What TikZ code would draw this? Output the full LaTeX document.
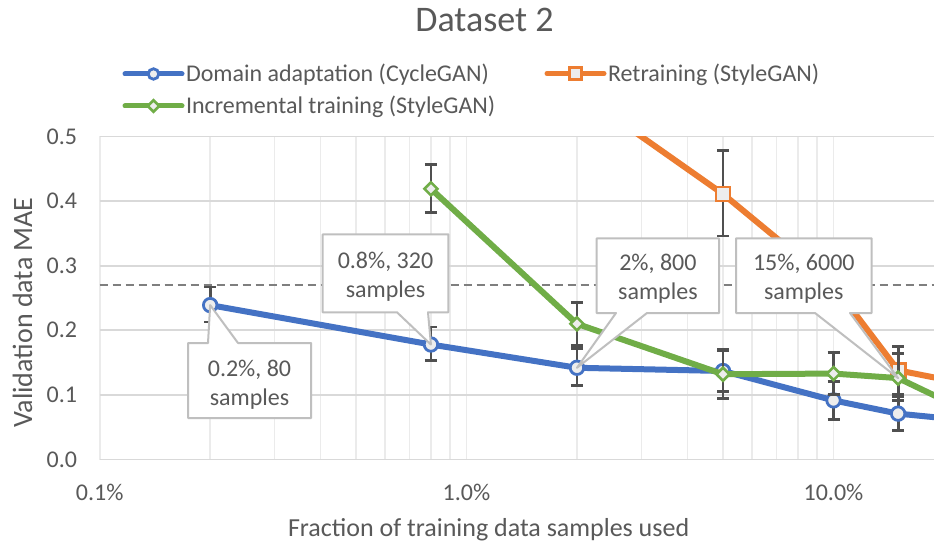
\documentclass[tikz,border=0pt]{standalone}
\usepackage{fontspec}
\setmainfont{Carlito}
\usetikzlibrary{shapes.geometric}
\definecolor{xlblue}{HTML}{4472C4}
\definecolor{xlorange}{HTML}{ED7D31}
\definecolor{xlgreen}{HTML}{70AD47}
\definecolor{gridmaj}{HTML}{D9D9D9}
\definecolor{gridmin}{HTML}{EBEBEB}
\definecolor{txt}{HTML}{595959}
\definecolor{errc}{HTML}{505050}
\definecolor{mfill}{HTML}{EDEDED}
\definecolor{callb}{HTML}{BFBFBF}
\definecolor{refline}{HTML}{7F7F7F}

% vertical error bar with caps: x (percent), low, high
\newcommand\errbarat[3]{%
  \draw[errbar] ({px(#1)-6},{py(#2)}) -- ++(12,0)
                ({px(#1)},{py(#2)}) -- ({px(#1)},{py(#3)})
                ({px(#1)-6},{py(#3)}) -- ++(12,0);}

\begin{document}
\begin{tikzpicture}[x=1pt,y=-1pt,
  declare function={px(\p)=99.5+367*(log10(\p)+1); py(\v)=459.5-646*\v;},
  every node/.style={inner sep=0pt, outer sep=0pt, text=txt},
  gridh/.style={draw=gridmaj, line width=1.8pt},
  gridv/.style={draw=gridmin, line width=1.6pt},
  series/.style={line width=6pt, line join=round, line cap=round},
  errbar/.style={draw=errc, line width=2.8pt},
  dotmark/.style={circle, draw=xlblue, fill=mfill, line width=2.8pt, minimum size=13.5pt},
  sqmark/.style={rectangle, draw=xlorange, fill=mfill, line width=2.8pt, minimum size=14pt},
  dmmark/.style={diamond, draw=xlgreen, fill=mfill, line width=2.6pt, minimum size=13pt},
  callout/.style={draw=callb, fill=white, line width=2pt, line join=round},
  calltext/.style={align=center, font=\fontsize{24}{29}\selectfont},
  ticklab/.style={font=\fontsize{24}{29}\selectfont},
  legtext/.style={anchor=base west, font=\fontsize{24}{29}\selectfont},
  legline/.style={line width=5pt, line cap=round},
]
% canvas
\fill[white] (0,0) rectangle (934,545);
\useasboundingbox (0,0) rectangle (934,545);

% title
\node (title) [anchor=base, font=\fontsize{36}{43}\selectfont] at (484.5,32) {Dataset 2};

% legend
\draw[legline, xlblue] (125,74) coordinate (lb1) -- (182,74) coordinate (lb2);
\node[dotmark, minimum size=10.5pt] (lbm) at (153.5,74) {};
\node[legtext] (lbt) at (186,81.7) {Domain adaptation (CycleGAN)};
\draw[legline, xlorange] (547,73.5) coordinate (lo1) -- (604,73.5) coordinate (lo2);
\node[sqmark, minimum size=11.5pt] (lom) at (575.5,73.5) {};
\node[legtext] (lot) at (608,81.2) {Retraining (StyleGAN)};
\draw[legline, xlgreen] (125,106) coordinate (lg1) -- (182,106) coordinate (lg2);
\node[dmmark, minimum size=11.5pt] (lgm) at (153.5,106) {};
\node[legtext] (lgt) at (186,114) {Incremental training (StyleGAN)};

% gridlines
\foreach \p in {0.1,0.2,0.3,0.4,0.5,0.6,0.7,0.8,0.9,1,2,3,4,5,6,7,8,9,10}
  \draw[gridv] ({px(\p)},136.5) -- ({px(\p)},459.5);
\foreach \v in {0,0.1,0.2,0.3,0.4,0.5}
  \draw[gridh] (99.5,{py(\v)}) -- (934,{py(\v)});

% axis tick labels
\foreach \v/\t/\n in {0/0.0/0,0.1/0.1/1,0.2/0.2/2,0.3/0.3/3,0.4/0.4/4,0.5/0.5/5}
  \node[ticklab, anchor=east] (yl\n) at (77,{py(\v)}) {\t};
\foreach \p/\t/\n in {0.1/0.1\%/0,1/1.0\%/1,10/10.0\%/2}
  \node[ticklab] (xl\n) at ({px(\p)},492) {\t};

% axis titles
\node (xtitle) [anchor=base west, font=\fontsize{26}{31}\selectfont] at (288,536)
  {Fraction of training data samples used};
\node (ytitle) [anchor=base, rotate=90, font=\fontsize{28}{34}\selectfont] at (32,312.5)
  {Validation data MAE};

% data points
\coordinate (b1) at ({px(0.2)},{py(0.239)});
\coordinate (b2) at ({px(0.8)},{py(0.178)});
\coordinate (b3) at ({px(2)},{py(0.142)});
\coordinate (b4) at ({px(5)},{py(0.137)});
\coordinate (b5) at ({px(10)},{py(0.0915)});
\coordinate (b6) at ({px(15)},{py(0.071)});
\coordinate (b7) at ({px(20)},{py(0.064)});
\coordinate (o1) at ({px(2)},{py(0.57)});
\coordinate (o2) at ({px(5)},{py(0.411)});
\coordinate (o3) at ({px(10)},{py(0.27)});
\coordinate (o4) at ({px(15)},{py(0.138)});
\coordinate (o5) at ({px(20)},{py(0.124)});
\coordinate (g1) at ({px(0.8)},{py(0.419)});
\coordinate (g2) at ({px(2)},{py(0.21)});
\coordinate (g3) at ({px(5)},{py(0.132)});
\coordinate (g4) at ({px(10)},{py(0.133)});
\coordinate (g5) at ({px(15)},{py(0.126)});
\coordinate (g6) at ({px(20)},{py(0.092)});

\begin{scope}
  \clip (90,136.5) rectangle (934,545);
  % threshold
  \draw[refline, line width=2.4pt, dash pattern=on 8pt off 5pt] (99.5,{py(0.27)}) -- (934,{py(0.27)});
  % domain adaptation
  \draw[series, xlblue] (b1) -- (b2) -- (b3) -- (b4) -- (b5) -- (b6) -- (b7);
  \errbarat{0.2}{0.213}{0.267}
  \errbarat{0.8}{0.153}{0.205}
  \errbarat{2}{0.114}{0.172}
  \errbarat{5}{0.105}{0.169}
  \errbarat{10}{0.062}{0.121}
  \errbarat{15}{0.045}{0.097}
  \foreach \c in {b1,b2,b3,b4,b5,b6,b7} \node[dotmark] at (\c) {};
  % retraining
  \draw[series, xlorange] (o1) -- (o2) -- (o3) -- (o4) -- (o5);
  \errbarat{5}{0.346}{0.478}
  \errbarat{10}{0.22}{0.32}
  \errbarat{15}{0.101}{0.175}
  \foreach \c in {o1,o2,o3,o4,o5} \node[sqmark] at (\c) {};
  % incremental training
  \draw[series, xlgreen] (g1) -- (g2) -- (g3) -- (g4) -- (g5) -- (g6);
  \errbarat{0.8}{0.382}{0.457}
  \errbarat{2}{0.177}{0.243}
  \errbarat{5}{0.094}{0.170}
  \errbarat{10}{0.100}{0.166}
  \errbarat{15}{0.091}{0.164}
  \foreach \c in {g1,g2,g3,g4,g5,g6} \node[dmmark] at (\c) {};
\end{scope}

% callouts
\draw[callout] (188,343) -- (208,343) -- (b1) -- (238,343) -- (311,343)
  -- (311,418) -- (188,418) -- cycle;
\node[calltext] (c1) at (249.5,385) {0.2\%, 80\\samples};
\draw[callout] (322.7,234.3) -- (448.3,234.3) -- (448.3,312.3) -- (428,312.3)
  -- (b2) -- (397,312.3) -- (322.7,312.3) -- cycle;
\node[calltext] (c2) at (385.5,276.5) {0.8\%, 320\\samples};
\draw[callout] (596.7,238.3) -- (719,238.3) -- (719,313) -- (647,313)
  -- (b3) -- (616,313) -- (596.7,313) -- cycle;
\node[calltext] (c3) at (657.9,278.5) {2\%, 800\\samples};
\draw[callout] (736,238.3) -- (871.7,238.3) -- (871.7,313) -- (850,313)
  -- (g5) -- (815,313) -- (736,313) -- cycle;
\node[calltext] (c4) at (803.8,278.5) {15\%, 6000\\samples};
\end{tikzpicture}
\end{document}
